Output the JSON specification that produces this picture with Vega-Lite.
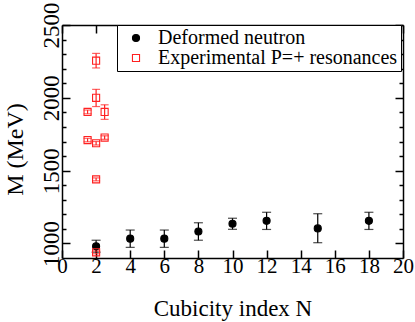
{
  "$schema": "https://vega.github.io/schema/vega-lite/v6.json",
  "width": 341,
  "height": 233,
  "autosize": "none",
  "padding": {"left": 62, "top": 25, "right": 12, "bottom": 64},
  "background": "white",
  "config": {
    "font": "Liberation Serif",
    "view": {"stroke": null},
    "axis": {
      "grid": false,
      "domainColor": "black",
      "domainWidth": 1.5,
      "tickColor": "black",
      "tickWidth": 1.5,
      "labelColor": "black",
      "titleColor": "black",
      "labelFont": "Liberation Serif",
      "titleFont": "Liberation Serif",
      "labelFontSize": 21,
      "titleFontSize": 23,
      "titleFontWeight": "normal"
    }
  },
  "data": {
    "values": [
      {"series": "Deformed neutron", "N": 2, "M": 980, "lo": 940, "hi": 1022},
      {"series": "Deformed neutron", "N": 4, "M": 1033, "lo": 973, "hi": 1092},
      {"series": "Deformed neutron", "N": 6, "M": 1033, "lo": 973, "hi": 1092},
      {"series": "Deformed neutron", "N": 8, "M": 1082, "lo": 1022, "hi": 1142},
      {"series": "Deformed neutron", "N": 10, "M": 1135, "lo": 1097, "hi": 1173},
      {"series": "Deformed neutron", "N": 12, "M": 1155, "lo": 1096, "hi": 1214},
      {"series": "Deformed neutron", "N": 15, "M": 1103, "lo": 1005, "hi": 1204},
      {"series": "Deformed neutron", "N": 18, "M": 1155, "lo": 1096, "hi": 1214},
      {"series": "Experimental P=+ resonances", "N": 2, "M": 2255, "lo": 2205, "hi": 2305},
      {"series": "Experimental P=+ resonances", "N": 2, "M": 2000, "lo": 1940, "hi": 2058},
      {"series": "Experimental P=+ resonances", "N": 1.5, "M": 1903, "lo": 1890, "hi": 1916},
      {"series": "Experimental P=+ resonances", "N": 2.5, "M": 1903, "lo": 1852, "hi": 1952},
      {"series": "Experimental P=+ resonances", "N": 1.5, "M": 1710, "lo": 1698, "hi": 1722},
      {"series": "Experimental P=+ resonances", "N": 2, "M": 1688, "lo": 1676, "hi": 1700},
      {"series": "Experimental P=+ resonances", "N": 2.5, "M": 1727, "lo": 1715, "hi": 1739},
      {"series": "Experimental P=+ resonances", "N": 2, "M": 1440, "lo": 1430, "hi": 1450},
      {"series": "Experimental P=+ resonances", "N": 2, "M": 939, "lo": 929, "hi": 949}
    ]
  },
  "resolve": {"axis": {"x": "independent", "y": "independent"}},
  "layer": [
    {
      "mark": {"type": "rule", "strokeWidth": 1.2},
      "encoding": {
        "x": {
          "field": "N", "type": "quantitative",
          "scale": {"domain": [0, 20], "nice": false, "zero": false},
          "axis": {
            "orient": "bottom",
            "title": "Cubicity index N",
            "values": [0, 2, 4, 6, 8, 10, 12, 14, 16, 18, 20],
            "tickSize": -8,
            "labelBaseline": "alphabetic",
            "labelPadding": 22,
            "titleBaseline": "alphabetic",
            "titleY": 57,
            "labelFlush": false
          }
        },
        "y": {
          "field": "lo", "type": "quantitative",
          "scale": {"domain": [900, 2500], "nice": false, "zero": false},
          "axis": {
            "orient": "left",
            "title": "M (MeV)",
            "format": "d",
            "values": [1000, 1100, 1200, 1300, 1400, 1500, 1600, 1700, 1800, 1900, 2000, 2100, 2200, 2300, 2400, 2500],
            "labelExpr": "datum.value % 500 === 0 ? datum.label : ''",
            "tickSize": {"condition": {"test": "datum.value % 500 === 0", "value": -8}, "value": -4},
            "labelAngle": -90,
            "labelFontSize": 23,
            "labelPadding": 7,
            "titleFontSize": 24,
            "titleBaseline": "middle",
            "titleX": -47,
            "titleY": 124,
            "labelFlush": false
          }
        },
        "y2": {"field": "hi"},
        "color": {"condition": {"test": "datum.series === 'Deformed neutron'", "value": "black"}, "value": "#ff2020"}
      }
    },
    {
      "mark": {"type": "tick", "orient": "horizontal", "thickness": 1.2},
      "encoding": {
        "x": {"field": "N", "type": "quantitative", "axis": null},
        "y": {"field": "lo", "type": "quantitative", "axis": null},
        "size": {"condition": {"test": "datum.series === 'Deformed neutron'", "value": 9}, "value": 8},
        "color": {"condition": {"test": "datum.series === 'Deformed neutron'", "value": "black"}, "value": "#ff2020"}
      }
    },
    {
      "mark": {"type": "tick", "orient": "horizontal", "thickness": 1.2},
      "encoding": {
        "x": {"field": "N", "type": "quantitative", "axis": null},
        "y": {"field": "hi", "type": "quantitative", "axis": null},
        "size": {"condition": {"test": "datum.series === 'Deformed neutron'", "value": 9}, "value": 8},
        "color": {"condition": {"test": "datum.series === 'Deformed neutron'", "value": "black"}, "value": "#ff2020"}
      }
    },
    {
      "mark": {"type": "point", "opacity": 1, "strokeWidth": 1.1, "size": 50},
      "encoding": {
        "x": {"field": "N", "type": "quantitative", "axis": null},
        "y": {"field": "M", "type": "quantitative", "axis": null},
        "shape": {
          "field": "series", "type": "nominal",
          "scale": {"domain": ["Deformed neutron", "Experimental P=+ resonances"], "range": ["circle", "square"]},
          "legend": {
            "title": null,
            "orient": "none",
            "legendX": 55,
            "legendY": 0,
            "strokeColor": "black",
            "fillColor": "white",
            "padding": 3,
            "symbolOffset": 6,
            "labelOffset": 12,
            "labelFont": "Liberation Serif",
            "labelFontSize": 20,
            "labelColor": "black",
            "labelLimit": 400,
            "symbolSize": 50,
            "symbolStrokeWidth": 1.1,
            "rowPadding": 0
          }
        },
        "fill": {
          "field": "series", "type": "nominal",
          "scale": {"domain": ["Deformed neutron", "Experimental P=+ resonances"], "range": ["black", "transparent"]},
          "legend": {"title": null}
        },
        "stroke": {
          "field": "series", "type": "nominal",
          "scale": {"domain": ["Deformed neutron", "Experimental P=+ resonances"], "range": ["black", "#ff2020"]},
          "legend": {"title": null}
        }
      }
    },
    {
      "mark": {"type": "point", "opacity": 0},
      "encoding": {
        "x": {
          "field": "N", "type": "quantitative",
          "axis": {"orient": "top", "title": null, "labels": false, "values": [0, 2, 4, 6, 8, 10, 12, 14, 16, 18, 20], "tickSize": -8}
        },
        "y": {
          "field": "M", "type": "quantitative",
          "axis": {
            "orient": "right", "title": null, "labels": false,
            "values": [1000, 1100, 1200, 1300, 1400, 1500, 1600, 1700, 1800, 1900, 2000, 2100, 2200, 2300, 2400, 2500],
            "tickSize": {"condition": {"test": "datum.value % 500 === 0", "value": -8}, "value": -4}
          }
        }
      }
    }
  ]
}
